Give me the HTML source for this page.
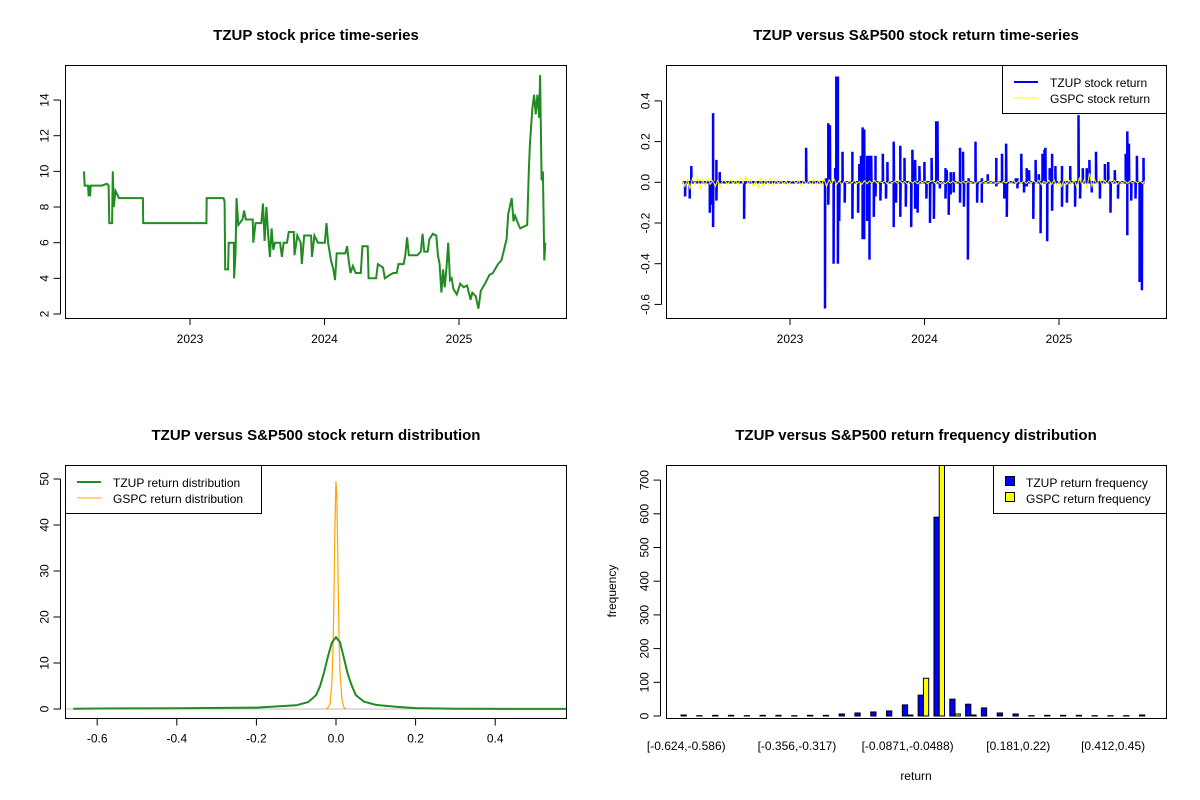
<!DOCTYPE html>
<html><head><meta charset="utf-8"><style>
body{margin:0;background:#fff}
svg{display:block;font-family:"Liberation Sans",Arial,sans-serif}
</style></head><body>
<svg id="svg" width="1200" height="800" xmlns="http://www.w3.org/2000/svg">
<rect width="1200" height="800" fill="#fff"/>
<defs>
<clipPath id="c1"><rect x="65" y="65" width="501" height="253"/></clipPath>
<clipPath id="c2"><rect x="666" y="65" width="500" height="253"/></clipPath>
<clipPath id="c3"><rect x="65" y="465" width="501" height="253"/></clipPath>
<clipPath id="c4"><rect x="666" y="465" width="500" height="253"/></clipPath>
</defs>
<g font-size="15" font-weight="bold" text-anchor="middle">
<text x="316" y="40">TZUP stock price time-series</text>
<text x="916" y="40">TZUP versus S&amp;P500 stock return time-series</text>
<text x="316" y="440">TZUP versus S&amp;P500 stock return distribution</text>
<text x="916" y="440">TZUP versus S&amp;P500 return frequency distribution</text>
</g>
<g id="p1"></g>
<g id="p2"></g>
<g id="p3"></g>
<g id="p4"></g>
<g fill="none" stroke="#000" stroke-width="1">
<rect x="65.5" y="65.5" width="501" height="253"/>
<rect x="666.5" y="65.5" width="500" height="253"/>
<rect x="65.5" y="465.5" width="501" height="253"/>
<rect x="666.5" y="465.5" width="500" height="253"/>
</g>
<g>
<rect x="1002.5" y="65.5" width="164" height="48" fill="#fff" stroke="#000"/>
<line x1="1014" y1="82" x2="1038" y2="82" stroke="#0000ff" stroke-width="2"/>
<line x1="1014" y1="98" x2="1038" y2="98" stroke="#ffff00" stroke-width="1"/>
<text x="1050" y="87" font-size="12">TZUP stock return</text>
<text x="1050" y="103" font-size="12">GSPC stock return</text>
</g>
<g>
<rect x="65.5" y="465.5" width="196" height="48" fill="#fff" stroke="#000"/>
<line x1="77" y1="482" x2="101" y2="482" stroke="#228b22" stroke-width="2"/>
<line x1="77" y1="498" x2="101" y2="498" stroke="#ffa500" stroke-width="1"/>
<text x="113" y="487" font-size="12">TZUP return distribution</text>
<text x="113" y="503" font-size="12">GSPC return distribution</text>
</g>
<g>
<rect x="993.5" y="465.5" width="173" height="48" fill="#fff" stroke="#000"/>
<rect x="1005.5" y="476.5" width="9" height="9" fill="#0000ff" stroke="#000"/>
<rect x="1005.5" y="492.5" width="9" height="9" fill="#ffff00" stroke="#000"/>
<text x="1026" y="487" font-size="12">TZUP return frequency</text>
<text x="1026" y="503" font-size="12">GSPC return frequency</text>
</g>
<text x="916" y="780" font-size="12" text-anchor="middle">return</text>
<text transform="translate(616,591) rotate(-90)" font-size="12" text-anchor="middle">frequency</text>
</svg>
<script>
const priceYears=[2022.211,2022.217,2022.242,2022.247,2022.252,2022.257,2022.262,2022.344,2022.382,2022.395,2022.400,2022.421,2022.426,2022.433,2022.446,2022.472,2022.650,2022.652,2023.122,2023.124,2023.249,2023.257,2023.262,2023.283,2023.288,2023.326,2023.328,2023.339,2023.346,2023.359,2023.390,2023.402,2023.415,2023.466,2023.471,2023.487,2023.530,2023.543,2023.555,2023.568,2023.581,2023.594,2023.607,2023.619,2023.632,2023.670,2023.683,2023.696,2023.721,2023.734,2023.772,2023.777,2023.798,2023.823,2023.831,2023.849,2023.900,2023.907,2023.925,2023.951,2024.002,2024.015,2024.027,2024.048,2024.066,2024.078,2024.091,2024.155,2024.168,2024.180,2024.193,2024.211,2024.231,2024.270,2024.282,2024.321,2024.328,2024.384,2024.397,2024.435,2024.448,2024.486,2024.512,2024.537,2024.550,2024.588,2024.601,2024.614,2024.627,2024.690,2024.716,2024.729,2024.741,2024.767,2024.780,2024.805,2024.831,2024.843,2024.856,2024.869,2024.882,2024.894,2024.907,2024.920,2024.933,2024.946,2024.958,2024.984,2025.009,2025.035,2025.060,2025.086,2025.099,2025.124,2025.144,2025.162,2025.201,2025.226,2025.252,2025.290,2025.315,2025.354,2025.366,2025.392,2025.405,2025.417,2025.443,2025.456,2025.507,2025.519,2025.527,2025.545,2025.558,2025.570,2025.583,2025.596,2025.603,2025.614,2025.624,2025.634,2025.642];
const prices=[10.0,9.2,9.2,8.6,9.2,8.6,9.2,9.2,9.3,9.2,7.1,7.1,10.0,8.0,8.9,8.5,8.5,7.1,7.1,8.5,8.5,8.3,4.5,4.5,6.0,6.0,4.0,5.5,8.5,7.0,7.3,7.8,7.3,7.3,6.0,7.1,7.1,8.2,6.1,8.0,6.5,5.2,6.8,5.6,6.0,6.0,5.2,6.0,6.0,6.6,6.6,5.3,6.4,6.0,4.8,6.4,6.4,5.2,6.4,6.0,6.0,7.1,6.0,5.0,4.5,3.9,5.4,5.4,5.8,5.0,4.3,4.7,4.3,4.3,5.8,5.8,4.0,4.0,4.8,4.6,4.0,4.2,4.3,4.3,4.8,4.8,5.3,6.3,5.3,5.3,5.5,6.5,5.5,5.5,6.2,6.5,6.4,5.3,4.8,3.2,4.5,3.5,4.6,6.0,3.9,4.0,3.4,3.1,3.7,3.5,3.6,2.8,3.2,3.0,2.3,3.3,3.8,4.2,4.3,4.8,5.0,6.2,7.6,8.5,7.2,7.5,7.0,6.8,7.0,10.0,11.5,13.5,14.3,13.2,14.3,13.0,15.4,9.5,10.0,5.0,6.0];
const priceTicks=[2,4,6,8,10,12,14];
const yearTicks=[2023,2024,2025];
const retYears=[2022.220,2022.254,2022.266,2022.404,2022.414,2022.428,2022.428,2022.453,2022.453,2022.477,2022.659,2023.120,2023.260,2023.268,2023.285,2023.285,2023.297,2023.324,2023.336,2023.344,2023.356,2023.356,2023.366,2023.390,2023.407,2023.464,2023.464,2023.506,2023.515,2023.528,2023.540,2023.540,2023.552,2023.552,2023.574,2023.574,2023.591,2023.591,2023.604,2023.623,2023.636,2023.636,2023.672,2023.690,2023.714,2023.724,2023.771,2023.771,2023.788,2023.820,2023.820,2023.851,2023.861,2023.901,2023.910,2023.930,2023.930,2023.949,2023.962,2023.999,2024.014,2024.041,2024.041,2024.053,2024.070,2024.087,2024.097,2024.114,2024.156,2024.156,2024.165,2024.180,2024.195,2024.195,2024.217,2024.217,2024.264,2024.264,2024.286,2024.293,2024.323,2024.328,2024.379,2024.391,2024.426,2024.426,2024.470,2024.534,2024.534,2024.576,2024.593,2024.607,2024.612,2024.679,2024.691,2024.691,2024.720,2024.740,2024.760,2024.760,2024.777,2024.809,2024.826,2024.850,2024.863,2024.877,2024.892,2024.899,2024.912,2024.931,2024.949,2024.949,2024.973,2025.022,2025.022,2025.059,2025.083,2025.120,2025.145,2025.157,2025.177,2025.206,2025.226,2025.243,2025.275,2025.304,2025.341,2025.366,2025.383,2025.415,2025.439,2025.496,2025.508,2025.508,2025.520,2025.537,2025.569,2025.579,2025.599,2025.616,2025.628];
const tzupReturns=[-0.07,-0.08,0.08,-0.15,-0.11,0.34,-0.22,0.11,-0.09,0.05,-0.18,0.17,-0.62,0.02,0.29,-0.11,0.28,-0.40,0.07,0.52,0.52,-0.40,-0.19,0.15,-0.10,0.15,-0.18,-0.15,0.09,0.13,-0.28,0.27,-0.28,0.26,0.13,-0.19,-0.38,0.13,0.13,-0.17,0.13,-0.07,-0.09,0.14,-0.08,0.10,-0.22,0.20,-0.10,0.18,-0.17,0.12,-0.12,-0.22,0.16,-0.13,0.11,-0.15,0.08,0.10,-0.08,-0.20,-0.19,0.12,-0.18,0.30,0.30,-0.03,0.07,-0.08,0.06,-0.16,-0.06,0.05,-0.05,0.05,0.17,-0.10,0.15,-0.12,-0.38,0.02,0.20,-0.10,-0.10,0.02,0.04,0.12,-0.02,0.14,-0.08,0.19,-0.17,0.02,0.02,-0.03,0.14,-0.05,0.07,-0.02,0.06,-0.18,0.11,0.04,-0.25,0.14,0.16,0.17,-0.29,0.07,0.14,-0.14,0.08,0.08,-0.12,-0.10,0.08,-0.12,0.33,-0.08,0.07,0.07,0.11,-0.05,0.15,-0.08,0.09,0.10,-0.15,0.06,-0.08,0.14,-0.26,0.25,0.19,-0.09,-0.08,0.13,-0.49,-0.53,0.12];
const gspcReturns=[0.01,-0.02,0.015,-0.03,0.02,-0.01,0.025,-0.03,0.01,-0.015,0.02,-0.01,0.008,-0.02,0.012,-0.025,0.01,0.005,-0.01,0.015,-0.008,0.01,-0.012,0.02,-0.005,0.03,-0.01,0.012,-0.02,0.008,-0.028,0.018,-0.022,0.014,-0.012,0.02,-0.016,0.01,-0.006,0.01,-0.008,0.006,-0.01,0.005,0.008,-0.006,0.01,-0.018,0.012,-0.008,0.006,-0.012,0.014,-0.01,0.009,-0.014,0.018,-0.02,0.012,-0.008,0.016,-0.01,0.008,-0.012,0.006,-0.004,0.007,-0.005,0.01,-0.006,0.004,-0.01,0.008,-0.007,0.006,-0.004,0.009,-0.006,0.005,-0.003,0.007,-0.008,0.01,-0.005,0.006,-0.004,0.008,-0.006,0.005,-0.01,0.007,-0.004,0.006,-0.008,0.005,-0.003,0.006,-0.007,0.004,0.008,-0.005,0.007,-0.006,0.004,-0.007,0.005,-0.004,0.006,-0.005,0.008,-0.004,0.005,-0.006,0.004,-0.003,0.006,-0.005,0.007,-0.006,0.005,-0.004,0.006,-0.003,0.008,-0.006,0.004,-0.007,0.005,-0.004,0.006,-0.008,0.01,-0.005,0.006,-0.004,0.007,-0.006,0.005,-0.004,0.008,-0.005,0.01,-0.012,0.006,-0.004,0.009,-0.01,0.012,-0.015,0.008,-0.02,0.015,-0.01,0.01,-0.008,0.012,-0.025,0.02,-0.01,0.014,-0.03,0.045,-0.02,0.015,-0.012,0.02,-0.015,0.01,-0.008,0.012,-0.006,0.008,-0.01,0.006,-0.004,0.007,-0.005,0.006,-0.004,0.005,-0.003,0.006,-0.005,0.007];
const retTicks=[-0.6,-0.4,-0.2,0.0,0.2,0.4];
const tzupDensX=[-0.66,-0.6,-0.4,-0.2,-0.1,-0.07,-0.05,-0.04,-0.03,-0.02,-0.01,0,0.01,0.02,0.03,0.04,0.05,0.07,0.1,0.15,0.2,0.3,0.5,0.58];
const tzupDensY=[0.05,0.1,0.15,0.3,0.8,1.5,3,5,8,11.5,14.5,15.6,14.5,11,7.5,5,3,1.6,0.9,0.5,0.2,0.05,0.02,0.02];
const gspcDensX=[-0.025,-0.02,-0.015,-0.01,-0.007,-0.005,-0.003,-0.001,0,0.002,0.004,0.006,0.008,0.01,0.015,0.02,0.025];
const gspcDensY=[0,0.3,1,6,15,25,38,47,49.5,46,36,24,14,8,2,0.3,0];
const densXTicks=[-0.6,-0.4,-0.2,0.0,0.2,0.4];
const densYTicks=[0,10,20,30,40,50];
const binLabels=["[-0.624,-0.586)","","","","","","","[-0.356,-0.317)","","","","","","","[-0.0871,-0.0488)","","","","","","","[0.181,0.22)","","","","","","[0.412,0.45)","",""];
const tzupFreq=[3,1,2,2,1,2,2,1,2,2,6,9,12,15,33,62,590,50,35,24,9,6,1,2,2,2,1,1,1,3];
const gspcFreq=[0,0,0,0,0,0,0,0,0,0,0,0,0,0,3,112,760,6,3,0,0,0,0,0,0,0,0,0,0,0];
const freqTicks=[0,100,200,300,400,500,600,700];

const NS="http://www.w3.org/2000/svg";
function mk(parent,tag,attrs){const e=document.createElementNS(NS,tag);for(const k in attrs)e.setAttribute(k,attrs[k]);parent.appendChild(e);return e;}
const p1=document.getElementById('p1'),p2=document.getElementById('p2'),p3=document.getElementById('p3'),p4=document.getElementById('p4');

const x1=y=>190+(y-2023)*134.5, y1=v=>314-(v-2)*17.83;
let pts=priceYears.map((t,i)=>x1(t).toFixed(1)+','+y1(prices[i]).toFixed(1)).join(' ');
let l=mk(p1,'polyline',{points:pts,fill:'none',stroke:'#228b22','stroke-width':2,'clip-path':'url(#c1)'});


function yAxis(g,ticks,fy,x0,fmt,nm){mk(g,'line',{x1:x0,x2:x0,y1:fy(ticks[0]),y2:fy(ticks[ticks.length-1]),stroke:'#000'});
 ticks.forEach(v=>{const y=fy(v);mk(g,'line',{x1:x0-7,x2:x0,y1:y,y2:y,stroke:'#000'});
 const t=mk(g,'text',{transform:`translate(${x0-12},${y}) rotate(-90)`,'text-anchor':'middle','font-size':12});t.textContent=fmt(v);
 
 });}
function xAxis(g,ticks,fx,y0,fmt,nm,line){if(line)mk(g,'line',{x1:fx(ticks[0]),x2:fx(ticks[ticks.length-1]),y1:y0,y2:y0,stroke:'#000'});
 ticks.forEach(v=>{const x=fx(v);mk(g,'line',{x1:x,x2:x,y1:y0,y2:y0+7,stroke:'#000'});
 const t=mk(g,'text',{x:x,y:y0+24,'text-anchor':'middle','font-size':12});t.textContent=fmt(v);
 
 });}
yAxis(p1,priceTicks,y1,60.5,v=>v,'price-y');
yAxis(p2,retTicks,v=>182.3-v*203.5,661.5,v=>v.toFixed(1),'return-y');
[[p1,x1,'price-x'],[p2,y=>790+(y-2023)*134.5,'return-x']].forEach(([g,f,n])=>{
 yearTicks.forEach(v=>{const x=f(v);mk(g,'line',{x1:x,x2:x,y1:318.5,y2:325,stroke:'#000'});
 const t=mk(g,'text',{x:x,y:343,'text-anchor':'middle','font-size':12});t.textContent=v;
 
 });});

const x2=y=>790+(y-2023)*134.5, y2=v=>182.3-v*203.5;
let rp=[];for(let i=0;i<retYears.length;i++){const t=retYears[i];
 if(i===0||t-retYears[i-1]>0.004)rp.push([t,0]);rp.push([t,tzupReturns[i]]);
 if(i===retYears.length-1||retYears[i+1]-t>0.004)rp.push([t+0.002,0]);}
rp.unshift([2022.2,0]);
l=mk(p2,'polyline',{points:rp.map(p=>x2(p[0]).toFixed(1)+','+y2(p[1]).toFixed(1)).join(' '),fill:'none',stroke:'#0000ff','stroke-width':2.5,'clip-path':'url(#c2)'});


const gStep=(2025.64-2022.2)/(gspcReturns.length-1);
l=mk(p2,'polyline',{points:gspcReturns.map((v,i)=>x2(2022.2+i*gStep).toFixed(1)+','+y2(v).toFixed(1)).join(' '),fill:'none',stroke:'#ffff00','stroke-width':1,'clip-path':'url(#c2)'});



const x3=v=>336+v*398, y3=v=>709-v*4.6;
xAxis(p3,densXTicks,x3,718.5,v=>v.toFixed(1),'density-x',true);
yAxis(p3,densYTicks,y3,60.5,v=>v,'density-y');
mk(p3,'line',{x1:65,x2:566,y1:y3(0),y2:y3(0),stroke:'#bebebe'});
l=mk(p3,'polyline',{points:gspcDensX.map((v,i)=>x3(v).toFixed(1)+','+y3(gspcDensY[i]).toFixed(1)).join(' '),fill:'none',stroke:'#ffa500','stroke-width':1.2,'clip-path':'url(#c3)'});


l=mk(p3,'polyline',{points:tzupDensX.map((v,i)=>x3(v).toFixed(1)+','+y3(tzupDensY[i]).toFixed(1)).join(' '),fill:'none',stroke:'#228b22','stroke-width':2,'clip-path':'url(#c3)'});



const u=5.27, y4=v=>716-v*0.337;
yAxis(p4,freqTicks,y4,660.5,v=>v,'frequency-y');
tzupFreq.forEach((c,i)=>{const gx=681+i*3*u;
 let r=mk(p4,'rect',{x:gx,y:y4(c),width:u,height:716-y4(c),fill:'#0000ff',stroke:'#000','stroke-width':1,'clip-path':'url(#c4)'});
 
 
 r=mk(p4,'rect',{x:gx+u,y:y4(gspcFreq[i]),width:u,height:716-y4(gspcFreq[i]),fill:'#ffff00',stroke:'#000','stroke-width':1,'clip-path':'url(#c4)'});
 
 
 if(binLabels[i]){const t=mk(p4,'text',{x:gx+u,y:750,'text-anchor':'middle','font-size':12});t.textContent=binLabels[i];
 
 }});
</script>
</body></html>
